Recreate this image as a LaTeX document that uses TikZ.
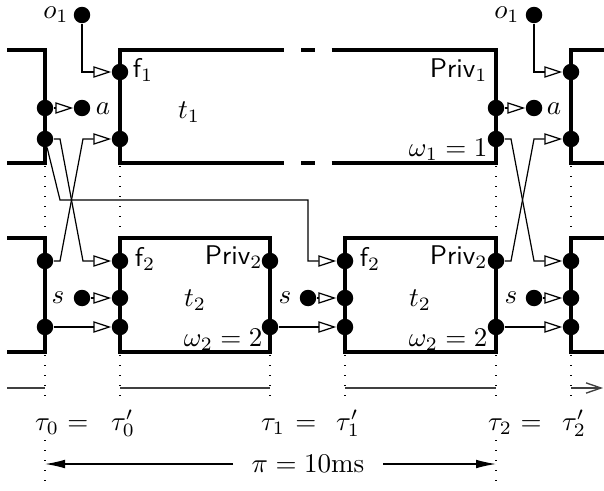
\documentclass[tikz,border=0pt]{standalone}
\usetikzlibrary{arrows.meta}
\begin{document}
\begin{tikzpicture}[x=0.37pt,y=-0.37pt,
  boxline/.style={line width=1.25pt, line join=miter},
  gapline/.style={line width=1.25pt, dash pattern=on 4.9pt off 6.3pt},
  port/.style={circle, fill=black, inner sep=0pt, minimum size=6.1pt},
  conn/.style={line width=0.45pt},
  inarrow/.style={conn, -{Triangle[open, length=6.6pt, width=4.2pt]}},
  guide/.style={line width=0.55pt, dash pattern=on 0.5pt off 3.2pt},
  axis/.style={line width=0.5pt, black!75},
  lbl/.style={inner sep=0pt}
]
\useasboundingbox (0,0) rectangle (604,490);

% ---------- guides (dotted) ----------
\foreach \x in {45,120,496,571} \draw[guide] (\x,166) -- (\x,236);
\foreach \x in {45,120,270,345,496,571} \draw[guide] (\x,355) -- (\x,403);
\foreach \x in {45,496} \draw[guide] (\x,440) -- (\x,490);

% ---------- top row boxes ----------
\draw[boxline] (7,50) -- (45,50) -- (45,163) -- (7,163);
\draw[boxline] (271,163) -- (120,163) -- (120,50) -- (271,50);
\draw[gapline] (271,50) -- (345,50);
\draw[gapline] (271,163) -- (345,163);
\draw[boxline] (345,50) -- (496,50) -- (496,163) -- (345,163);
\draw[boxline] (604,50) -- (571,50) -- (571,163) -- (604,163);

% ---------- bottom row boxes ----------
\draw[boxline] (7,238) -- (45,238) -- (45,352) -- (7,352);
\draw[boxline] (120,238) rectangle (270,352);
\draw[boxline] (345,238) rectangle (496,352);
\draw[boxline] (604,238) -- (571,238) -- (571,352) -- (604,352);

% ---------- top row ports ----------
\node[port] (pLa) at (45,108) {};
\node[port] (pLb) at (45,139) {};
\node[port] (dA1) at (82,108) {};
\node[port] (O1) at (82,15) {};
\node[port] (p1f) at (120,72) {};
\node[port] (p1b) at (120,139) {};
\node[port] (p1ra) at (496,108) {};
\node[port] (p1rb) at (496,139) {};
\node[port] (dA2) at (534,108) {};
\node[port] (O2) at (534,15) {};
\node[port] (pRf) at (571,72) {};
\node[port] (pRb) at (571,139) {};

% ---------- bottom row ports ----------
\node[port] (qLt) at (45,261) {};
\node[port] (qLb) at (45,327) {};
\node[port] (S1) at (82,298) {};
\node[port] (q1f) at (120,261) {};
\node[port] (q1s) at (120,298) {};
\node[port] (q1b) at (120,327) {};
\node[port] (q1rt) at (270,261) {};
\node[port] (q1rb) at (270,327) {};
\node[port] (S2) at (308,298) {};
\node[port] (q2f) at (345,261) {};
\node[port] (q2s) at (345,298) {};
\node[port] (q2b) at (345,327) {};
\node[port] (q2rt) at (496,261) {};
\node[port] (q2rb) at (496,327) {};
\node[port] (S3) at (534,298) {};
\node[port] (qRt) at (571,261) {};
\node[port] (qRs) at (571,298) {};
\node[port] (qRb) at (571,327) {};

% ---------- connectors ----------
\draw[inarrow] (O1) |- (p1f);
\draw[inarrow] (pLa) -- (dA1);
\draw[inarrow] (pLb) -- (60,139) -- (83,261) -- (q1f);
\draw[inarrow] (qLt) -- (60,261) -- (83,139) -- (p1b);
\draw[inarrow] (pLb) -- (60,200) -- (308,200) -- (308,261) -- (q2f);
\draw[inarrow] (S1) -- (q1s);
\draw[inarrow] (qLb) -- (q1b);
\draw[inarrow] (S2) -- (q2s);
\draw[inarrow] (q1rb) -- (q2b);
\draw[inarrow] (O2) |- (pRf);
\draw[inarrow] (p1ra) -- (dA2);
\draw[inarrow] (p1rb) -- (511,139) -- (534,261) -- (qRt);
\draw[inarrow] (q2rt) -- (511,261) -- (534,139) -- (pRb);
\draw[inarrow] (S3) -- (qRs);
\draw[inarrow] (q2rb) -- (qRb);

% ---------- labels ----------
\node[lbl] (lo1) at (56,15) {$o_1$};
\node[lbl] (lo2) at (507,15) {$o_1$};
\node[lbl] (la1) at (103,109) {$a$};
\node[lbl] (la2) at (554,109) {$a$};
\node[lbl] (lf1) at (143,70) {$\textsf{f}_1$};
\node[lbl] (lt1) at (189,112) {$t_1$};
\node[lbl, anchor=base east] (lpriv1) at (488,77) {$\textsf{Priv}_1$};
\node[lbl, anchor=base east] (lw1) at (488,156) {$\omega_1 = 1$};

\node[lbl] (ls1) at (58,298) {$s$};
\node[lbl] (ls2) at (285,298) {$s$};
\node[lbl] (ls3) at (511,298) {$s$};
\node[lbl] (lf2a) at (145,259) {$\textsf{f}_2$};
\node[lbl] (lf2b) at (370,259) {$\textsf{f}_2$};
\node[lbl] (lt2a) at (195,300) {$t_2$};
\node[lbl] (lt2b) at (420,300) {$t_2$};
\node[lbl, anchor=base east] (lpriv2a) at (263,264) {$\textsf{Priv}_2$};
\node[lbl, anchor=base east] (lpriv2b) at (488,264) {$\textsf{Priv}_2$};
\node[lbl, anchor=base east] (lw2a) at (263,346) {$\omega_2 = 2$};
\node[lbl, anchor=base east] (lw2b) at (488,346) {$\omega_2 = 2$};

% ---------- time axis ----------
\draw[axis] (7,388) -- (45,388);
\draw[axis] (120,388) -- (270,388);
\draw[axis] (345,388) -- (496,388);
\coordinate (axend) at (603,388);
\coordinate (axstart) at (571,388);
\draw[axis, -{Straight Barb[length=5.5pt, width=3.8pt]}] (axstart) -- (axend);

\node[lbl, anchor=base] (tau0) at (47,430) {$\tau_0$};
\node[lbl, anchor=base] (eq0) at (78,430) {$=$};
\node[lbl, anchor=base] (tau0p) at (123,430) {$\tau_0'$};
\node[lbl, anchor=base] (tau1) at (273,430) {$\tau_1$};
\node[lbl, anchor=base] (eq1) at (306,430) {$=$};
\node[lbl, anchor=base] (tau1p) at (348,430) {$\tau_1'$};
\node[lbl, anchor=base] (tau2) at (500,430) {$\tau_2$};
\node[lbl, anchor=base] (eq2) at (531,430) {$=$};
\node[lbl, anchor=base] (tau2p) at (574,430) {$\tau_2'$};

% ---------- period ----------
\node[lbl] (per) at (308,464) {$\pi = 10\mathrm{ms}$};
\coordinate (pl) at (45,464);
\coordinate (pr) at (496,464);
\draw[conn, -{Latex[length=7.4pt, width=3.2pt]}] (233,464) -- (pl);
\draw[conn, -{Latex[length=7.4pt, width=3.2pt]}] (383,464) -- (pr);
\end{tikzpicture}
\end{document}
